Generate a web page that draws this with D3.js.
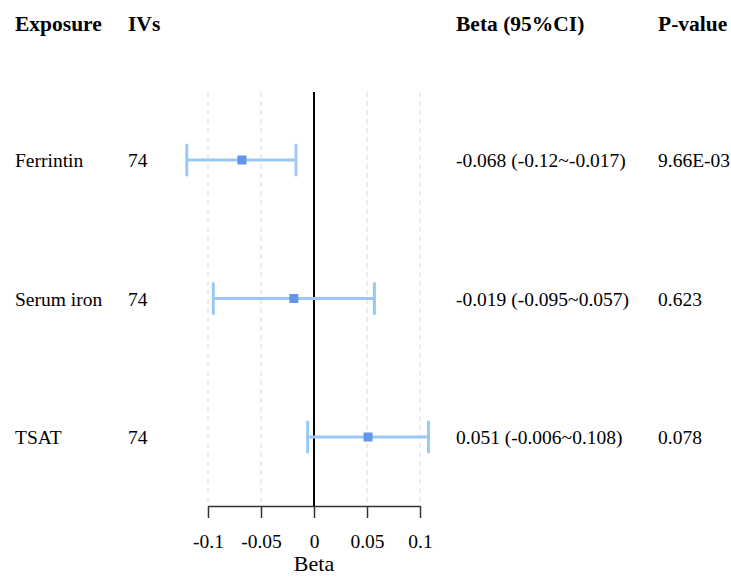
<!DOCTYPE html>
<html><head><meta charset="utf-8">
<script src="https://cdn.jsdelivr.net/npm/d3@7"></script>
<style>body{margin:0;background:#fff}svg{display:block}text{font-family:"Liberation Serif","Times New Roman",serif}</style>
</head><body>
<svg id="c" width="731" height="577"></svg>
<script>
const exposures = ["Ferrintin", "Serum iron", "TSAT"];
const ivs = ["74", "74", "74"];
const beta = [-0.068, -0.019, 0.051];
const lower = [-0.12, -0.095, -0.006];
const upper = [-0.017, 0.057, 0.108];
const betaText = ["-0.068 (-0.12~-0.017)", "-0.019 (-0.095~0.057)", "0.051 (-0.006~0.108)"];
const pText = ["9.66E-03", "0.623", "0.078"];
const ticks = [-0.1, -0.05, 0, 0.05, 0.1];
const tickLabels = ["-0.1", "-0.05", "0", "0.05", "0.1"];
const headers = ["Exposure", "IVs", "Beta (95%CI)", "P-value"];

const svg = d3.select("#c");
const x = d3.scaleLinear().domain([-0.1, 0.1]).range([208, 420]);
const y = d3.scalePoint().domain(exposures).range([160, 437]);
const yTop = 92, yBottom = 506;
const cols = [15, 128, 456, 658];

// headers
svg.selectAll("text.h").data(headers).join("text")
  .attr("x", (d,i)=>cols[i]).attr("y", 31)
  .attr("font-size", 21.5).attr("font-weight", "bold").text(d=>d);

// grid
svg.selectAll("line.g").data(ticks.filter(t=>t!==0)).join("line")
  .attr("x1", d=>x(d)).attr("x2", d=>x(d)).attr("y1", yTop).attr("y2", yBottom)
  .attr("stroke", "#d9d9d9").attr("stroke-width", 1).attr("stroke-dasharray", "5,4");

// axis
const ax = svg.append("g").attr("transform", `translate(0,${yBottom})`)
  .call(d3.axisBottom(x).tickValues(ticks).tickFormat((d,i)=>tickLabels[i]).tickSize(12).tickPadding(16).tickSizeOuter(0));
ax.select(".domain").attr("stroke", "#333").attr("stroke-width", 1.5);
ax.selectAll(".tick line").attr("stroke", "#333").attr("stroke-width", 1.5);
ax.selectAll(".tick text").attr("font-size", 19.5).attr("fill", "#000").attr("font-family", '"Liberation Serif",serif');

svg.append("text").attr("x", x(0)).attr("y", 571).attr("text-anchor", "middle")
  .attr("font-size", 22).text("Beta");

// zero line
svg.append("line").attr("x1", x(0)).attr("x2", x(0)).attr("y1", yTop).attr("y2", yBottom)
  .attr("stroke", "#000").attr("stroke-width", 2);

// CIs
const g = svg.selectAll("g.r").data(exposures).join("g");
g.append("line").attr("x1",(d,i)=>x(lower[i])).attr("x2",(d,i)=>x(upper[i]))
  .attr("y1",d=>y(d)).attr("y2",d=>y(d)).attr("stroke","#99c8f6").attr("stroke-width",3);
g.append("line").attr("x1",(d,i)=>x(lower[i])).attr("x2",(d,i)=>x(lower[i]))
  .attr("y1",d=>y(d)-15).attr("y2",d=>y(d)+15).attr("stroke","#99c8f6").attr("stroke-width",3).attr("stroke-linecap","round");
g.append("line").attr("x1",(d,i)=>x(upper[i])).attr("x2",(d,i)=>x(upper[i]))
  .attr("y1",d=>y(d)-15).attr("y2",d=>y(d)+15).attr("stroke","#99c8f6").attr("stroke-width",3).attr("stroke-linecap","round");
g.append("rect").attr("x",(d,i)=>x(beta[i])-4.5).attr("y",d=>y(d)-4.5).attr("width",9).attr("height",9)
  .attr("fill","#6495ed");

// row text
const rowCols = [exposures, ivs, betaText, pText];
rowCols.forEach((arr, c) => {
  svg.selectAll(null).data(arr).join("text")
    .attr("x", cols[c]).attr("y", (d,i)=>y(exposures[i]) + 7)
    .attr("font-size", 19.5).text(d=>d);
});
</script>
</body></html>
